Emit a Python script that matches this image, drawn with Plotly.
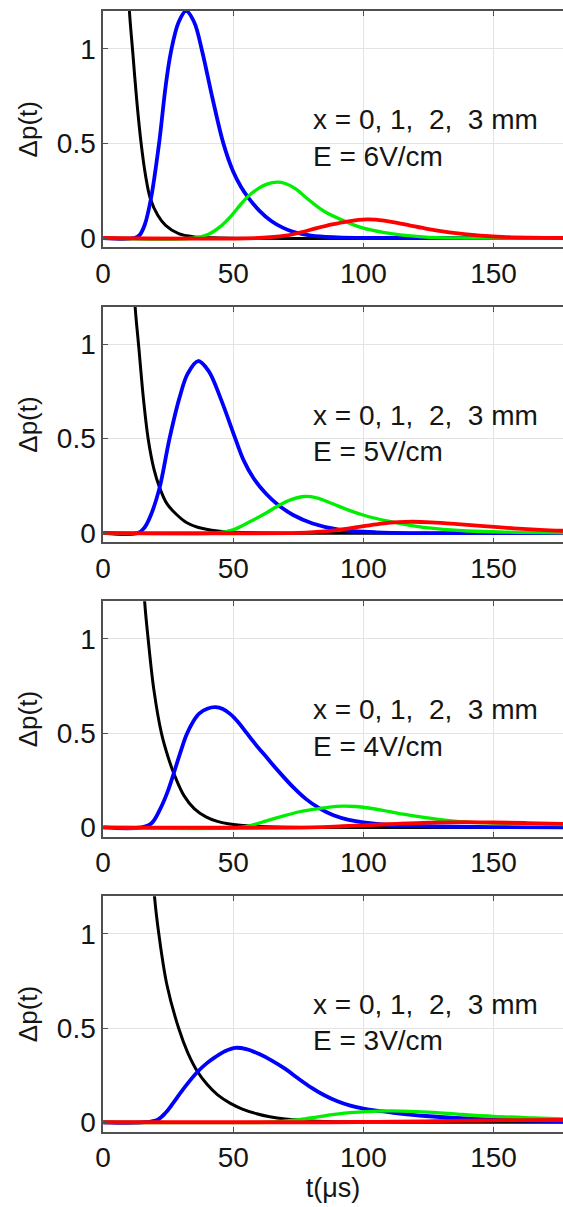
import plotly.graph_objects as go

# ---------------- data ----------------
E_labels = ["E = 6V/cm", "E = 5V/cm", "E = 4V/cm", "E = 3V/cm"]
x_label = "x = 0, 1,\u00a0 2,\u00a0 3 mm"

# Panel 1: E = 6 V/cm
t_black6 = [9.0, 10.1, 11.4, 12.9, 14.6, 16.3, 18.1, 21, 24, 29, 35, 45, 177]
p_black6 = [1.55, 1.2, 0.98, 0.73, 0.5, 0.33, 0.21, 0.12, 0.067, 0.023, 0.006, 0.0, 0.0]
t_blue6 = [0, 12, 14, 16, 18.4, 21.5, 24, 26, 29, 31.9, 35, 38, 42, 46.2, 50, 53, 55.7, 60, 64.6, 69, 73, 80, 90, 100, 177]
p_blue6 = [0, 0, 0.015, 0.07, 0.21, 0.5, 0.8, 0.98, 1.14, 1.2, 1.14, 0.99, 0.74, 0.5, 0.35, 0.27, 0.215, 0.145, 0.09, 0.055, 0.033, 0.012, 0.003, 0, 0]
t_green6 = [0, 35, 40.5, 45, 49.4, 53, 55.7, 60, 63, 66.8, 70, 74, 78.5, 85, 93.7, 100, 107.6, 115, 124, 140, 177]
p_green6 = [0, 0, 0.02, 0.06, 0.12, 0.18, 0.22, 0.265, 0.285, 0.295, 0.288, 0.26, 0.207, 0.14, 0.084, 0.052, 0.03, 0.015, 0.005, 0, 0]
t_red6 = [0, 60, 70, 76, 82, 88, 93.7, 101.3, 108, 113, 117.7, 125, 133, 145, 155, 177]
p_red6 = [0, 0, 0.012, 0.03, 0.052, 0.072, 0.087, 0.098, 0.092, 0.08, 0.067, 0.047, 0.03, 0.013, 0.005, 0.0]

# Panel 2: E = 5 V/cm
t_black5 = [11.3, 12.3, 13.8, 15.5, 17.3, 19.5, 21.7, 24.5, 28, 32, 36.3, 44, 55, 177]
p_black5 = [1.45, 1.2, 0.97, 0.71, 0.5, 0.34, 0.24, 0.155, 0.1, 0.055, 0.03, 0.01, 0.002, 0]
t_blue5 = [0, 13.5, 16, 18.5, 21.7, 25.5, 29.3, 32.5, 36.5, 40.5, 45.1, 50.8, 54, 57.8, 62.8, 67.3, 73, 80.5, 90.6, 105, 177]
p_blue5 = [0, 0, 0.03, 0.1, 0.24, 0.5, 0.715, 0.845, 0.912, 0.86, 0.715, 0.5, 0.385, 0.29, 0.205, 0.148, 0.095, 0.05, 0.017, 0.003, 0]
t_green5 = [0, 44, 50.2, 56.5, 62.8, 67.3, 72, 77.4, 82, 88, 94, 100.8, 109.6, 118, 128, 140, 155, 177]
p_green5 = [0, 0, 0.018, 0.06, 0.107, 0.144, 0.175, 0.193, 0.186, 0.156, 0.122, 0.091, 0.062, 0.04, 0.022, 0.01, 0.004, 0.001]
t_red5 = [0, 75, 82, 88, 94, 100.8, 107, 113.5, 119, 126, 135, 145, 157, 168, 177]
p_red5 = [0, 0, 0.005, 0.012, 0.023, 0.037, 0.049, 0.057, 0.059, 0.056, 0.048, 0.037, 0.025, 0.016, 0.011]

# Panel 3: E = 4 V/cm
t_black4 = [15, 16, 17.3, 19.5, 22.4, 24.8, 27.2, 31, 35, 39.5, 43.9, 48, 52.7, 63, 80, 177]
p_black4 = [1.45, 1.19, 1.0, 0.73, 0.5, 0.38, 0.285, 0.17, 0.1, 0.056, 0.032, 0.019, 0.011, 0.004, 0, 0]
t_blue4 = [0, 14.8, 18.6, 22, 24.8, 27.2, 29.5, 32, 34.5, 37, 40, 43.2, 46, 49, 52, 55.2, 58.5, 62.8, 67.5, 72.9, 78, 83, 88.5, 94.4, 107, 125, 150, 177]
p_blue4 = [0, 0, 0.022, 0.1, 0.19, 0.29, 0.39, 0.49, 0.56, 0.605, 0.63, 0.638, 0.628, 0.6, 0.557, 0.5, 0.442, 0.372, 0.296, 0.215, 0.15, 0.102, 0.064, 0.04, 0.016, 0.006, 0.002, 0]
t_green4 = [0, 52.7, 58, 62.8, 69, 75.5, 83, 87, 91.9, 97, 102, 107, 113.4, 120, 128, 137, 150, 163, 177]
p_green4 = [0, 0, 0.015, 0.035, 0.06, 0.083, 0.1, 0.108, 0.113, 0.111, 0.103, 0.092, 0.074, 0.06, 0.044, 0.031, 0.023, 0.018, 0.015]
t_red4 = [0, 80, 92, 105, 113, 125, 139, 150, 163, 177]
p_red4 = [0, 0, 0.006, 0.014, 0.019, 0.025, 0.028, 0.026, 0.023, 0.019]

# Panel 4: E = 3 V/cm
t_black3 = [18.8, 19.8, 21.4, 24.5, 29, 32.5, 36.3, 40, 44, 48.9, 53.5, 59, 64, 70, 80, 95, 115, 177]
p_black3 = [1.4, 1.19, 1.0, 0.73, 0.5, 0.37, 0.268, 0.2, 0.145, 0.1, 0.07, 0.045, 0.029, 0.017, 0.007, 0.002, 0, 0]
t_blue3 = [0, 16, 21, 24, 26.8, 31, 36.3, 40, 43.2, 47, 50.8, 55, 60, 65, 70, 75, 80, 85, 90, 95, 100, 105, 111, 124, 149, 177]
p_blue3 = [0, 0, 0.014, 0.05, 0.1, 0.18, 0.268, 0.315, 0.347, 0.378, 0.395, 0.388, 0.362, 0.326, 0.283, 0.232, 0.184, 0.143, 0.111, 0.088, 0.072, 0.061, 0.051, 0.033, 0.014, 0.005]
t_green3 = [0, 62.8, 70, 75.5, 82, 88, 94, 100.8, 106, 111, 118, 127, 137, 150, 165, 177]
p_green3 = [0, 0, 0.007, 0.014, 0.027, 0.04, 0.05, 0.056, 0.059, 0.06, 0.058, 0.052, 0.042, 0.031, 0.023, 0.018]
t_red3 = [0, 86, 105, 124, 140, 149, 160, 177]
p_red3 = [0, 0, 0.002, 0.005, 0.008, 0.01, 0.011, 0.012]

x_ticks = [0, 50, 100, 150]
y_ticks = [0, 0.5, 1]
y_tick_text = ["0", "0.5", "1"]

panels = [
    [(t_black6, p_black6), (t_blue6, p_blue6), (t_green6, p_green6), (t_red6, p_red6)],
    [(t_black5, p_black5), (t_blue5, p_blue5), (t_green5, p_green5), (t_red5, p_red5)],
    [(t_black4, p_black4), (t_blue4, p_blue4), (t_green4, p_green4), (t_red4, p_red4)],
    [(t_black3, p_black3), (t_blue3, p_blue3), (t_green3, p_green3), (t_red3, p_red3)],
]
colors = ["#000000", "#0000ff", "#00ee00", "#ff0000"]
widths = [3, 3.8, 3.3, 3.8]

# ---------------- figure ----------------
W, H = 563, 1207
FONT = "Liberation Sans, Arial, Helvetica, sans-serif"
TXT = "#151515"
x_dom = [96.5 / W, 1.0]
panel_px = [(11, 248.7), (308.3, 545), (604.3, 841), (900.7, 1137.3)]

fig = go.Figure()
layout = dict(
    width=W, height=H,
    margin=dict(l=0, r=0, t=0, b=0),
    paper_bgcolor="white", plot_bgcolor="white",
    showlegend=False,
    font=dict(family=FONT, size=27, color=TXT),
    annotations=[],
)

for i, curves in enumerate(panels):
    n = i + 1
    xa = "x" if n == 1 else f"x{n}"
    ya = "y" if n == 1 else f"y{n}"
    for (t, p), c, w in zip(curves, colors, widths):
        fig.add_trace(go.Scatter(
            x=t, y=p, mode="lines", xaxis=xa, yaxis=ya,
            line=dict(color=c, width=w, shape="spline", smoothing=1.0),
            hoverinfo="skip",
        ))
    top, bot = panel_px[i]
    xkey = "xaxis" if n == 1 else f"xaxis{n}"
    ykey = "yaxis" if n == 1 else f"yaxis{n}"
    layout[xkey] = dict(
        domain=x_dom, range=[0, 176.7], anchor=ya,
        tickmode="array", tickvals=x_ticks, ticktext=[str(v) for v in x_ticks],
        ticks="inside", ticklen=5, tickwidth=1, tickcolor="#505050",
        showline=True, linecolor="#505050", linewidth=1.5, mirror="ticks",
        showgrid=True, gridcolor="#e3e3e3", gridwidth=1,
        zeroline=False, tickfont=dict(size=28, family=FONT, color=TXT),
        ticklabelstandoff=0,
    )
    layout[ykey] = dict(
        domain=[1 - bot / H, 1 - top / H], range=[-0.05, 1.2], anchor=xa,
        tickmode="array", tickvals=y_ticks, ticktext=y_tick_text,
        ticks="inside", ticklen=5, tickwidth=1, tickcolor="#505050",
        showline=True, linecolor="#505050", linewidth=1.5, mirror=False,
        showgrid=True, gridcolor="#e3e3e3", gridwidth=1,
        zeroline=False, tickfont=dict(size=28, family=FONT, color=TXT),
        title=dict(text="\u0394p(t)", font=dict(size=26, family=FONT, color=TXT), standoff=12),
    )
    layout["annotations"].append(dict(
        x=80, y=0.625, xref=xa, yref=ya, text=x_label, showarrow=False,
        xanchor="left", yanchor="middle",
        font=dict(size=28, family=FONT, color=TXT),
    ))
    layout["annotations"].append(dict(
        x=80, y=0.432, xref=xa, yref=ya, text=E_labels[i], showarrow=False,
        xanchor="left", yanchor="middle",
        font=dict(size=28, family=FONT, color=TXT),
    ))

layout["xaxis4"]["title"] = dict(text="t(\u03bcs)", font=dict(size=27, family=FONT, color=TXT), standoff=0)

fig.update_layout(**layout)
fig.write_html(
    "out.html",
    config={"displayModeBar": False},
    post_script="document.body.style.margin='0px';document.body.style.padding='0px';document.body.style.overflow='hidden';",
)
